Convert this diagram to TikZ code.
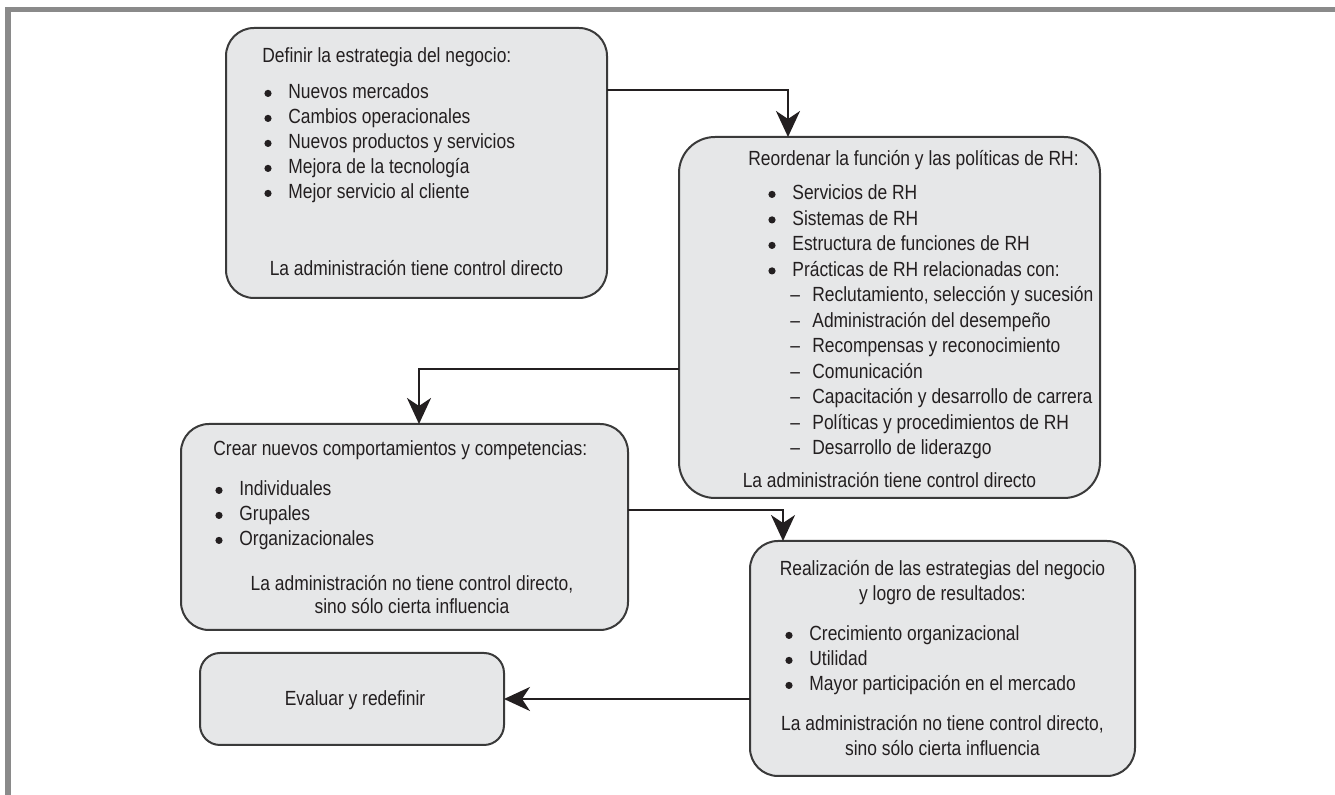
\documentclass[tikz,border=0pt]{standalone}
\usepackage{fontspec}
\setmainfont{Liberation Sans}[FakeStretch=0.85]
\usepackage{xcolor}
\usetikzlibrary{arrows.meta}
\definecolor{boxfill}{HTML}{E6E7E8}
\definecolor{boxline}{HTML}{3A3A3A}
\definecolor{ink}{HTML}{231F20}
\definecolor{framegray}{HTML}{8A8A8A}
\newcommand{\itm}[1]{\makebox[12pt][l]{\tikz[baseline=0pt]\fill (1.8pt,2.8pt) circle (1.8pt);}#1}
\newcommand{\subitm}[1]{\makebox[11pt][l]{--}#1}

\begin{document}
\begin{tikzpicture}[x=0.5pt, y=-0.5pt, ink,
    stage/.style={draw=boxline, fill=boxfill, line width=1pt, rounded corners=14pt,
      inner sep=0pt, outer sep=0pt},
    txt/.style={font=\fontsize{10.25}{12.5}\selectfont, inner sep=0pt, anchor=base west},
    foot/.style={font=\fontsize{10.25}{12.5}\selectfont, inner sep=0pt, anchor=base},
    flow/.style={line width=1.3pt, -{Stealth[length=13pt, width=12pt, inset=4pt]}}]
    \useasboundingbox (0,0) rectangle (1335,795);
    \fill[framegray] (5,7) rectangle (1335,12);
    \fill[framegray] (5,7) rectangle (11,795);

    \node[stage, minimum width=190.5pt, minimum height=135pt] (estr) at (416.5,163) {};
    \node[stage, rounded corners=18pt, minimum width=210.5pt, minimum height=180.5pt] (rh) at (889.5,317.5) {};
    \node[stage, minimum width=223.5pt, minimum height=103pt] (cre) at (404.5,527) {};
    \node[stage, minimum width=192.5pt, minimum height=117.5pt] (res) at (942.5,658.5) {};
    \node[stage, rounded corners=10pt, minimum width=152pt, minimum height=46pt] (eva) at (352,699) {};

    \node[txt] (estr-t) at (262,63) {Definir la estrategia del negocio:};
    \foreach \t [count=\i from 0] in {Nuevos mercados, Cambios operacionales,
        Nuevos productos y servicios, Mejora de la tecnología, Mejor servicio al cliente}
      \node[txt] (estr-\i) at (264,99+25*\i) {\itm{\t}};
    \node[foot] (estr-f) at (416.5,276) {La administración tiene control directo};

    \node[txt] (rh-t) at (748,166) {Reordenar la función y las políticas de RH:};
    \foreach \t [count=\i from 0] in {Servicios de RH, Sistemas de RH,
        Estructura de funciones de RH, Prácticas de RH relacionadas con:}
      \node[txt] (rh-\i) at (768,200+25.5*\i) {\itm{\t}};
    \foreach \t [count=\i from 0] in {{Reclutamiento, selección y sucesión},
        Administración del desempeño, Recompensas y reconocimiento, Comunicación,
        Capacitación y desarrollo de carrera, Políticas y procedimientos de RH,
        Desarrollo de liderazgo}
      \node[txt] (rh-s\i) at (790,302+25.5*\i) {\subitm{\t}};
    \node[foot] (rh-f) at (889.5,488) {La administración tiene control directo};

    \node[txt] (cre-t) at (213,456) {Crear nuevos comportamientos y competencias:};
    \foreach \t [count=\i from 0] in {Individuales, Grupales, Organizacionales}
      \node[txt] (cre-\i) at (215,496+25*\i) {\itm{\t}};
    \node[foot] (cre-f1) at (412,591) {La administración no tiene control directo,};
    \node[foot] (cre-f2) at (412,614) {sino sólo cierta influencia};

    \node[foot] (res-t1) at (942.5,576) {Realización de las estrategias del negocio};
    \node[foot] (res-t2) at (942.5,601) {y logro de resultados:};
    \foreach \t [count=\i from 0] in {Crecimiento organizacional, Utilidad,
        Mayor participación en el mercado}
      \node[txt] (res-\i) at (785,641+25*\i) {\itm{\t}};
    \node[foot] (res-f1) at (942.5,731) {La administración no tiene control directo,};
    \node[foot] (res-f2) at (942.5,756) {sino sólo cierta influencia};

    \node[foot] (eva-t) at (355,706) {Evaluar y redefinir};

    \coordinate (k1) at (788,90);
    \coordinate (k2) at (419,369);
    \coordinate (k3) at (783,510);
    \draw[flow] (estr.east |- k1) -| (rh.north -| k1);
    \draw[flow] (rh.west |- k2) -| (cre.north -| k2);
    \draw[flow] (cre.east |- k3) -| (res.north -| k3);
    \draw[flow] (res.west |- eva.east) -- (eva.east);
  \end{tikzpicture}
\end{document}
